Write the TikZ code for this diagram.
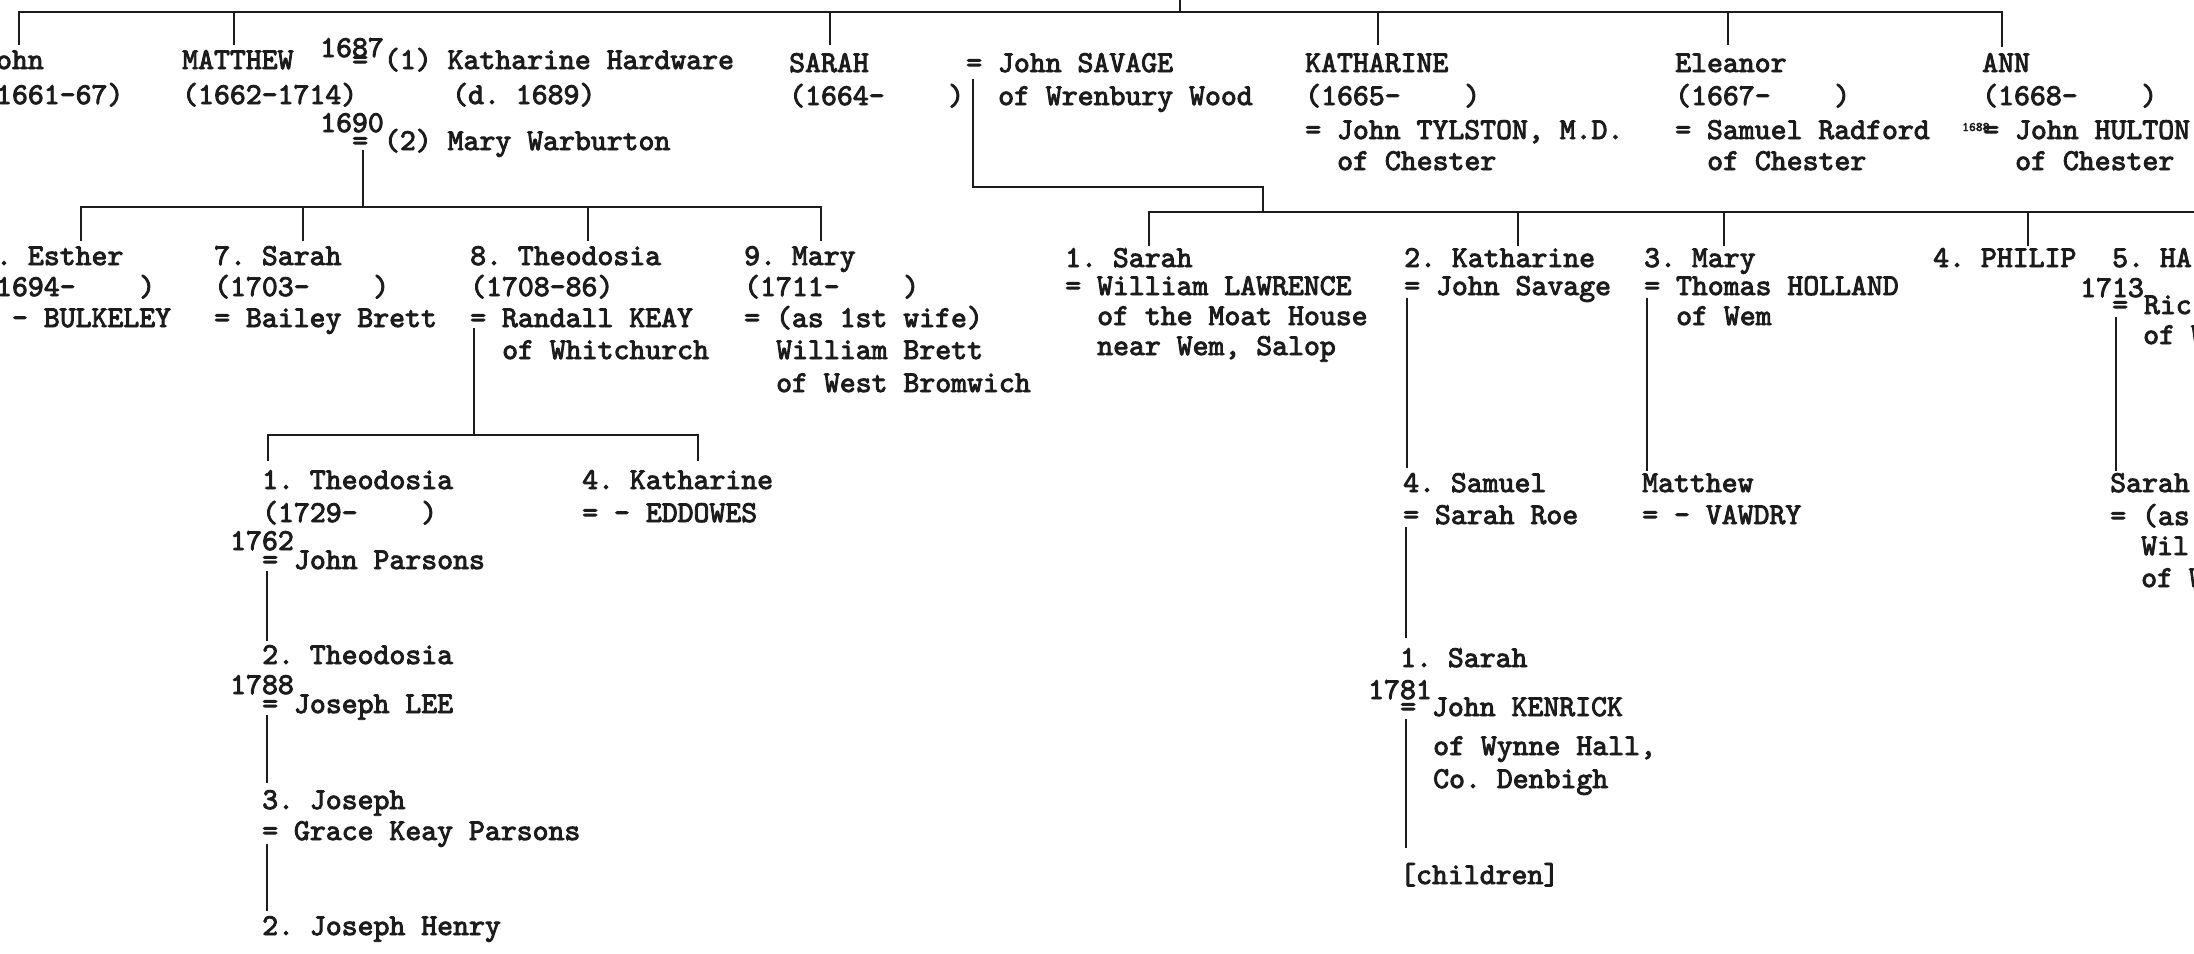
\documentclass[tikz,border=0pt]{standalone}
\usepackage{fontspec}
\newfontfamily\tw[FakeBold=3]{lmmono10-regular.otf}
\definecolor{ink}{HTML}{1C1C1C}
\begin{document}
\frenchspacing
\begin{tikzpicture}[x=1pt,y=-1pt,
  tw/.style={font=\tw\frenchspacing\fontsize{30.3}{34}\selectfont, inner sep=0pt, anchor=base west, text=ink},
  tinyyr/.style={font=\tw\fontsize{13}{14}\selectfont, inner sep=0pt, anchor=base west, text=ink},
  ln/.style={draw=ink, line width=2.6pt, line cap=rect}]
\useasboundingbox[fill=white] (0,0) rectangle (2194,953);

% ---------- generation 1 ----------
\node[tw] (john)  at (-20,69)  {John};
\node[tw] (johnd) at (-20,104) {(1661-67)};
\node[tw] (mat)   at (182,69)  {MATTHEW};
\node[tw] (matd)  at (182,104) {(1662-1714)};
\node[tw] (m1y)   at (320,57)  {1687};
\node[tw] (m1)    at (352,69)  {= (1) Katharine Hardware};
\node[tw] (m1d)   at (452,104) {(d. 1689)};
\node[tw] (m2y)   at (320,132) {1690};
\node[tw] (m2)    at (352,150) {= (2) Mary Warburton};
\node[tw] (sar)   at (789,72)  {SARAH};
\node[tw] (sard)  at (789,105) {(1664-~~~~)};
\node[tw] (sav)   at (966,72)  {= John SAVAGE};
\node[tw] (sav2)  at (998,105) {of Wrenbury Wood};
\node[tw] (kat)   at (1305,72) {KATHARINE};
\node[tw] (katd)  at (1305,105){(1665-~~~~)};
\node[tw] (kat3)  at (1305,139){= John TYLSTON, M.D.};
\node[tw] (kat4)  at (1337,170){of Chester};
\node[tw] (ele)   at (1675,72) {Eleanor};
\node[tw] (eled)  at (1675,105){(1667-~~~~)};
\node[tw] (ele3)  at (1675,139){= Samuel Radford};
\node[tw] (ele4)  at (1707,170){of Chester};
\node[tw] (ann)   at (1982,72) {ANN};
\node[tw] (annd)  at (1982,105){(1668-~~~~)};
\node[tinyyr] (anny) at (1962,131){1688};
\node[tw] (ann3)  at (1983,139){= John HULTON};
\node[tw] (ann4)  at (2015,170){of Chester};

% ---------- generation 2, Matthew's children ----------
\node[tw] (est1) at (-20,265) {6. Esther};
\node[tw] (est2) at (-20,296) {(1694-~~~~)};
\node[tw] (est3) at (-20,327) {= - BULKELEY};
\node[tw] (sa1)  at (214,265) {7. Sarah};
\node[tw] (sa2)  at (214,296) {(1703-~~~~)};
\node[tw] (sa3)  at (214,327) {= Bailey Brett};
\node[tw] (th1)  at (470,265) {8. Theodosia};
\node[tw] (th2)  at (470,296) {(1708-86)};
\node[tw] (th3)  at (470,327) {= Randall KEAY};
\node[tw] (th4)  at (502,359) {of Whitchurch};
\node[tw] (ma1)  at (744,265) {9. Mary};
\node[tw] (ma2)  at (744,296) {(1711-~~~~)};
\node[tw] (ma3)  at (744,327) {= (as 1st wife)};
\node[tw] (ma4)  at (776,359) {William Brett};
\node[tw] (ma5)  at (776,392) {of West Bromwich};

% ---------- generation 2, Sarah's children ----------
\node[tw] (rs1) at (1065,267) {1. Sarah};
\node[tw] (rs2) at (1065,295) {= William LAWRENCE};
\node[tw] (rs3) at (1097,325) {of the Moat House};
\node[tw] (rs4) at (1097,355) {near Wem, Salop};
\node[tw] (rk1) at (1404,267) {2. Katharine};
\node[tw] (rk2) at (1404,295) {= John Savage};
\node[tw] (rm1) at (1644,267) {3. Mary};
\node[tw] (rm2) at (1644,295) {= Thomas HOLLAND};
\node[tw] (rm3) at (1676,325) {of Wem};
\node[tw] (rp1) at (1933,267) {4. PHILIP};
\node[tw] (rh1) at (2112,267) {5. HA};
\node[tw] (rhy) at (2080,297) {1713};
\node[tw] (rh2) at (2112,314) {= Ric};
\node[tw] (rh3) at (2143,344) {of W};

% ---------- generation 3, left ----------
\node[tw] (la1) at (262,489) {1. Theodosia};
\node[tw] (la2) at (262,522) {(1729-~~~~)};
\node[tw] (lay) at (230,550) {1762};
\node[tw] (la3) at (262,569) {= John Parsons};
\node[tw] (lk1) at (582,489) {4. Katharine};
\node[tw] (lk2) at (582,522) {= - EDDOWES};
\node[tw] (lb1) at (262,664) {2. Theodosia};
\node[tw] (lby) at (230,694) {1788};
\node[tw] (lb2) at (262,713) {= Joseph LEE};
\node[tw] (lc1) at (262,809) {3. Joseph};
\node[tw] (lc2) at (262,840) {= Grace Keay Parsons};
\node[tw] (ld1) at (262,935) {2. Joseph Henry};

% ---------- generation 3, right ----------
\node[tw] (ss1) at (1403,492) {4. Samuel};
\node[tw] (ss2) at (1403,524) {= Sarah Roe};
\node[tw] (mw1) at (1642,492) {Matthew};
\node[tw] (mw2) at (1642,524) {= - VAWDRY};
\node[tw] (hs1) at (2110,492) {Sarah};
\node[tw] (hs2) at (2110,525) {= (as};
\node[tw] (hs3) at (2141,555) {Wil};
\node[tw] (hs4) at (2141,587) {of W};
\node[tw] (kn1) at (1400,667) {1. Sarah};
\node[tw] (kny) at (1368,699) {1781};
\node[tw] (kn2) at (1400,716) {= John KENRICK};
\node[tw] (kn3) at (1433,755) {of Wynne Hall,};
\node[tw] (kn4) at (1433,788) {Co. Denbigh};
\node[tw] (ch)  at (1400,884) {[children]};

% ---------- connector coordinates ----------
\coordinate (topup) at (1180,0);
\coordinate (topj) at (1180,12);
\coordinate (tL) at (19,12);   \coordinate (tLd) at (19,44);
\coordinate (tM) at (234,12);  \coordinate (tMd) at (234,44);
\coordinate (tS) at (830,12);  \coordinate (tSd) at (830,44);
\coordinate (tK) at (1378,12); \coordinate (tKd) at (1378,44);
\coordinate (tE) at (1728,12); \coordinate (tEd) at (1728,44);
\coordinate (tA) at (2002,12); \coordinate (tAd) at (2002,46);

\coordinate (mv1) at (363,151); \coordinate (mv2) at (363,207);
\coordinate (gL) at (81,207);   \coordinate (gLd) at (81,240);
\coordinate (gS) at (303,207);  \coordinate (gSd) at (303,240);
\coordinate (gT) at (588,207);  \coordinate (gTd) at (588,240);
\coordinate (gM) at (821,207);  \coordinate (gMd) at (821,240);

\coordinate (sv1) at (973,80); \coordinate (sv2) at (973,187);
\coordinate (sv3) at (1263,187); \coordinate (sv4) at (1263,212);
\coordinate (rL) at (1149,212); \coordinate (rLd) at (1149,245);
\coordinate (rK) at (1518,212); \coordinate (rKd) at (1518,245);
\coordinate (rM) at (1724,212); \coordinate (rMd) at (1724,245);
\coordinate (rP) at (2028,212); \coordinate (rPd) at (2028,245);
\coordinate (rR) at (2200,212);

\coordinate (kv1) at (474,329); \coordinate (kv2) at (474,435);
\coordinate (hL) at (268,435);  \coordinate (hLd) at (268,460);
\coordinate (hR) at (698,435);  \coordinate (hRd) at (698,460);

\coordinate (pa1) at (267,572); \coordinate (pa2) at (267,640);
\coordinate (pb1) at (267,716); \coordinate (pb2) at (267,782);
\coordinate (pc1) at (267,845); \coordinate (pc2) at (267,910);

\coordinate (qa1) at (1407,299); \coordinate (qa2) at (1407,467);
\coordinate (qb1) at (1406,528); \coordinate (qb2) at (1406,637);
\coordinate (qc1) at (1406,720); \coordinate (qc2) at (1406,847);
\coordinate (wa1) at (1647,299); \coordinate (wa2) at (1647,470);
\coordinate (ha1) at (2116,318); \coordinate (ha2) at (2116,470);

% ---------- connectors ----------
\draw[ln] (topup) -- (topj);
\draw[ln] (tLd) -- (tL) -- (tA) -- (tAd);
\draw[ln] (tM) -- (tMd);
\draw[ln] (tS) -- (tSd);
\draw[ln] (tK) -- (tKd);
\draw[ln] (tE) -- (tEd);

\draw[ln] (mv1) -- (mv2);
\draw[ln] (gLd) -- (gL) -- (gM) -- (gMd);
\draw[ln] (gS) -- (gSd);
\draw[ln] (gT) -- (gTd);

\draw[ln] (sv1) -- (sv2) -- (sv3) -- (sv4);
\draw[ln] (rLd) -- (rL) -- (rR);
\draw[ln] (rK) -- (rKd);
\draw[ln] (rM) -- (rMd);
\draw[ln] (rP) -- (rPd);

\draw[ln] (kv1) -- (kv2);
\draw[ln] (hLd) -- (hL) -- (hR) -- (hRd);

\draw[ln] (pa1) -- (pa2);
\draw[ln] (pb1) -- (pb2);
\draw[ln] (pc1) -- (pc2);

\draw[ln] (qa1) -- (qa2);
\draw[ln] (qb1) -- (qb2);
\draw[ln] (qc1) -- (qc2);
\draw[ln] (wa1) -- (wa2);
\draw[ln] (ha1) -- (ha2);
\end{tikzpicture}
\end{document}
